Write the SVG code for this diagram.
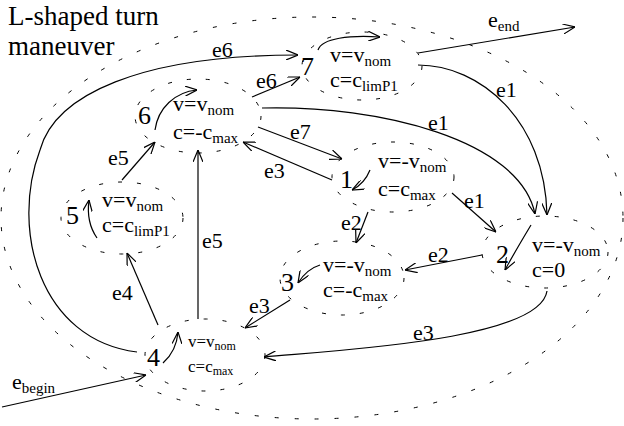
<svg xmlns="http://www.w3.org/2000/svg" width="624" height="426" viewBox="0 0 624 426" font-family="'Liberation Serif', 'DejaVu Serif', 'Noto Serif', serif">
  <style>
    text { font-family: "Liberation Serif", "DejaVu Serif", serif; fill: #000; }
    .title { font-size: 27px; }
    .num { font-size: 26px; }
    .lbl { font-size: 22px; }
    .st { font-size: 22px; }
    .st4 { font-size: 17px; }
    .sub { font-size: 15px; }
    .sub4 { font-size: 12px; }
    .bound { fill: none; stroke: #000; stroke-width: 1; stroke-dasharray: 4 15; }
    .region { fill: none; stroke: #000; stroke-width: 1; stroke-dasharray: 4 16; }
    .edge { fill: none; stroke: #000; stroke-width: 1.2; marker-end: url(#arr); }
  </style>
  <defs>
    <marker id="arr" viewBox="0 0 12 10" refX="12" refY="5" markerWidth="12" markerHeight="10" markerUnits="userSpaceOnUse" orient="auto">
      <path d="M0,0 L12,5 L0,10" fill="none" stroke="#000" stroke-width="1.2"/>
    </marker>
  </defs>

  <rect width="624" height="426" fill="#fff"/>

  <!-- maneuver boundary and title -->
  <ellipse class="region" cx="312" cy="218" rx="311" ry="201"/>
  <text class="title" x="8" y="25">L-shaped turn</text>
  <text class="title" x="8" y="55">maneuver</text>

  <!-- node 7 -->
  <g id="node7">
    <ellipse class="bound" cx="362" cy="66" rx="60" ry="34"/>
    <text class="num" x="301" y="75">7</text>
    <text class="st" x="330" y="62">v=v<tspan class="sub" dy="4">nom</tspan></text>
    <text class="st" x="330" y="87">c=c<tspan class="sub" dy="4">limP1</tspan></text>
    <path class="edge" d="M318,50 C322,38 350,35 380,37"/>
  </g>

  <!-- node 6 -->
  <g id="node6">
    <ellipse class="bound" cx="198" cy="116" rx="63" ry="37"/>
    <text class="num" x="138" y="124">6</text>
    <text class="st" x="173" y="111">v=v<tspan class="sub" dy="4">nom</tspan></text>
    <text class="st" x="173" y="139">c=-c<tspan class="sub" dy="4">max</tspan></text>
    <path class="edge" d="M155,130 C158,108 175,92 197,90"/>
  </g>

  <!-- node 5 -->
  <g id="node5">
    <ellipse class="bound" cx="122" cy="218" rx="61" ry="36"/>
    <text class="num" x="66" y="224">5</text>
    <text class="st" x="102" y="207">v=v<tspan class="sub" dy="4">nom</tspan></text>
    <text class="st" x="102" y="232">c=c<tspan class="sub" dy="4">limP1</tspan></text>
    <path class="edge" d="M97,238 C90,228 87,215 89,200"/>
  </g>

  <!-- node 1 -->
  <g id="node1">
    <ellipse class="bound" cx="393" cy="177" rx="61" ry="35"/>
    <text class="num" x="340" y="188">1</text>
    <text class="st" x="378" y="168">v=-v<tspan class="sub" dy="4">nom</tspan></text>
    <text class="st" x="378" y="196">c=c<tspan class="sub" dy="4">max</tspan></text>
    <path class="edge" d="M370,170 C366,180 360,186 352,190"/>
  </g>

  <!-- node 2 -->
  <g id="node2">
    <ellipse class="bound" cx="545" cy="252" rx="63" ry="36"/>
    <text class="num" x="496" y="263">2</text>
    <text class="st" x="532" y="252">v=-v<tspan class="sub" dy="4">nom</tspan></text>
    <text class="st" x="532" y="277">c=0</text>
    <path class="edge" d="M531,225 C522,240 513,255 505,270"/>
  </g>

  <!-- node 3 -->
  <g id="node3">
    <ellipse class="bound" cx="342" cy="278" rx="62" ry="37"/>
    <text class="num" x="281" y="291">3</text>
    <text class="st" x="323" y="272">v=-v<tspan class="sub" dy="4">nom</tspan></text>
    <text class="st" x="323" y="297">c=-c<tspan class="sub" dy="4">max</tspan></text>
    <path class="edge" d="M320,265 C310,268 303,275 298,283"/>
  </g>

  <!-- node 4 -->
  <g id="node4">
    <ellipse class="bound" cx="205" cy="355" rx="60" ry="36"/>
    <text class="num" x="147" y="366">4</text>
    <text class="st4" x="188" y="347">v=v<tspan class="sub4" dy="3">nom</tspan></text>
    <text class="st4" x="188" y="372">c=c<tspan class="sub4" dy="3">max</tspan></text>
    <path class="edge" d="M163,363 C172,355 177,345 178,332"/>
  </g>

  <!-- transitions -->
  <g id="connectors">
    <path class="edge" d="M2,407 L146,375"/>
    <path class="edge" d="M418,53 L575,27"/>
    <path class="edge" d="M418,65 C480,65 545,120 547,215"/>
    <path class="edge" d="M262,108 C380,105 520,140 535,214"/>
    <path class="edge" d="M452,193 L496,232"/>
    <path class="edge" d="M482,255 L405,270"/>
    <path class="edge" d="M368,212 L356,243"/>
    <path class="edge" d="M547,291 C540,340 340,350 264,357"/>
    <path class="edge" d="M290,300 L245,328"/>
    <path class="edge" d="M332,180 L243,142"/>
    <path class="edge" d="M258,127 L342,159"/>
    <path class="edge" d="M252,97 L300,77"/>
    <path class="edge" d="M137,352 C40,340 10,230 40,150 C55,95 140,55 298,55"/>
    <path class="edge" d="M122,180 L155,142"/>
    <path class="edge" d="M198,319 L198,150"/>
    <path class="edge" d="M158,325 L127,253"/>

    <text class="lbl" x="12" y="389">e<tspan class="sub" dy="4">begin</tspan></text>
    <text class="lbl" x="488" y="27">e<tspan class="sub" dy="4">end</tspan></text>
    <text class="lbl" x="496" y="97">e1</text>
    <text class="lbl" x="428" y="130">e1</text>
    <text class="lbl" x="464" y="208">e1</text>
    <text class="lbl" x="428" y="262">e2</text>
    <text class="lbl" x="341" y="230">e2</text>
    <text class="lbl" x="413" y="340">e3</text>
    <text class="lbl" x="249" y="313">e3</text>
    <text class="lbl" x="264" y="178">e3</text>
    <text class="lbl" x="290" y="139">e7</text>
    <text class="lbl" x="256" y="88">e6</text>
    <text class="lbl" x="212" y="57">e6</text>
    <text class="lbl" x="108" y="165">e5</text>
    <text class="lbl" x="202" y="248">e5</text>
    <text class="lbl" x="112" y="300">e4</text>
  </g>
</svg>
